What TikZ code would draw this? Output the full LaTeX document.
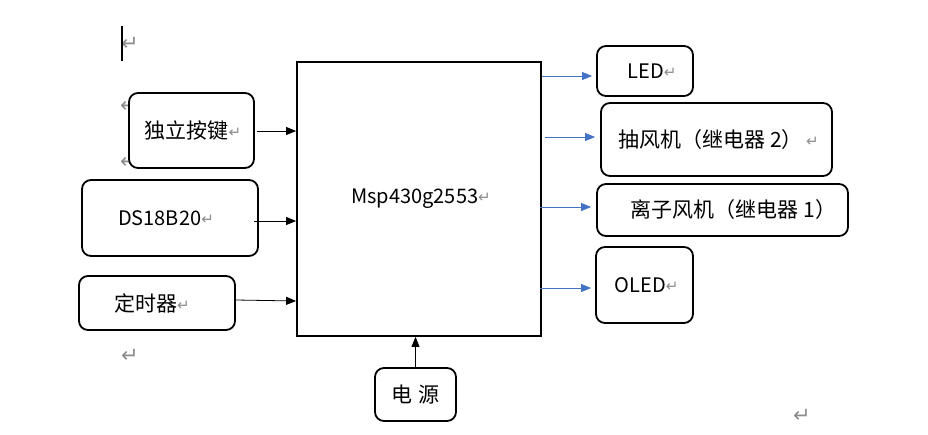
\documentclass[tikz,border=0pt]{standalone}
\usepackage{fontspec}
\setmainfont{Noto Sans CJK SC}
\newfontfamily\symfont{DejaVu Sans}
\usetikzlibrary{calc,arrows.meta}
\definecolor{arrblue}{HTML}{4472C4}
\definecolor{markgray}{HTML}{8C8C8C}
\newcommand{\retmk}{{\symfont\fontsize{15}{15}\selectfont\color{markgray}\raisebox{1pt}{↵}}}
\begin{document}
\begin{tikzpicture}[x=1pt,y=-1pt,
  box/.style={draw, line width=1.8pt, rounded corners=9pt, fill=white, inner sep=0pt,
    font=\fontsize{20}{24}\selectfont},
  cjk/.style={font=\fontsize{21}{24}\selectfont},
  mcubox/.style={draw, line width=1.8pt, fill=white, inner sep=0pt,
    font=\fontsize{20}{24}\selectfont},
  bigmark/.style={inner sep=0pt, text=markgray, font=\symfont\fontsize{21}{21}\selectfont},
  blk/.style={line width=0.8pt, -{Triangle[length=10pt,width=8pt]}},
  blu/.style={line width=0.8pt, draw=arrblue, -{Triangle[length=10pt,width=8pt,fill=arrblue]}}
]
\useasboundingbox (0,0) rectangle (928,434);
% stand-alone paragraph marks and cursor
\node[bigmark] (m1) at (130,44) {↵};
\node[bigmark] (m2) at (129,106) {↵};
\node[bigmark] (m3) at (129,162) {↵};
\node[bigmark] (m4) at (130,356) {↵};
\node[bigmark] (m5) at (802,416) {↵};
\coordinate (curT) at (122,26);
\coordinate (curB) at (122,61);
\draw[line width=2.4pt] (curT) -- (curB);
% boxes
\node[mcubox, minimum width=244pt, minimum height=274pt] (mcu) at (419,199) {\hspace*{4pt}Msp430g2553\retmk};
\node[box, cjk, minimum width=125pt, minimum height=75pt] (key) at (191.5,130.5) {\hspace*{3pt}独立按键\retmk};
\node[box, minimum width=176pt, minimum height=76pt] (ds) at (170,218) {\hspace*{-8pt}DS18B20\retmk};
\node[box, cjk, minimum width=156pt, minimum height=54pt] (tmr) at (157,303) {\hspace*{-10pt}定时器\retmk};
\node[box, cjk, minimum width=81pt, minimum height=53pt] (pwr) at (415.5,394.5) {电\,\,源};
\node[box, minimum width=96pt, minimum height=50pt] (led) at (645,71) {\hspace*{14pt}LED\retmk};
\node[box, cjk, minimum width=231pt, minimum height=73pt] (fan) at (716.5,139.5) {\hspace*{4pt}抽风机（继电器 2）\,\retmk};
\node[box, cjk, minimum width=251pt, minimum height=52pt] (ion) at (722.5,210) {\hspace*{22pt}离子风机（继电器 1）};
\node[box, minimum width=97pt, minimum height=76pt] (oled) at (644.5,285) {\hspace*{4pt}OLED\retmk};
% inputs
\coordinate (kA) at ($(key.east)+(2,0.5)$);
\draw[blk] (kA) -- (kA -| mcu.west);
\coordinate (dA) at ($(ds.east)+(-5,3)$);
\draw[blk] (dA) -- (dA -| mcu.west);
\coordinate (tA) at ($(tmr.east)+(0,-3)$);
\coordinate (tB) at ($(tA -| mcu.west)+(0,1)$);
\draw[blk] (tA) -- (tB);
\draw[blk] (pwr.north) -- (pwr.north |- mcu.south);
% outputs
\coordinate (oL) at ($(led.west)+(-54,5)$);
\draw[blu] (oL) -- ($(led.west)+(-4,5)$);
\coordinate (oF) at ($(fan.west)+(-55,-2.5)$);
\draw[blu] (oF) -- ($(fan.west)+(-5,-2.5)$);
\coordinate (oI) at ($(ion.west)+(-56,-3)$);
\draw[blu] (oI) -- ($(ion.west)+(-5,-3)$);
\coordinate (oO) at ($(oled.west)+(-55,3)$);
\draw[blu] (oO) -- ($(oled.west)+(-4,3)$);
\end{tikzpicture}
\end{document}
